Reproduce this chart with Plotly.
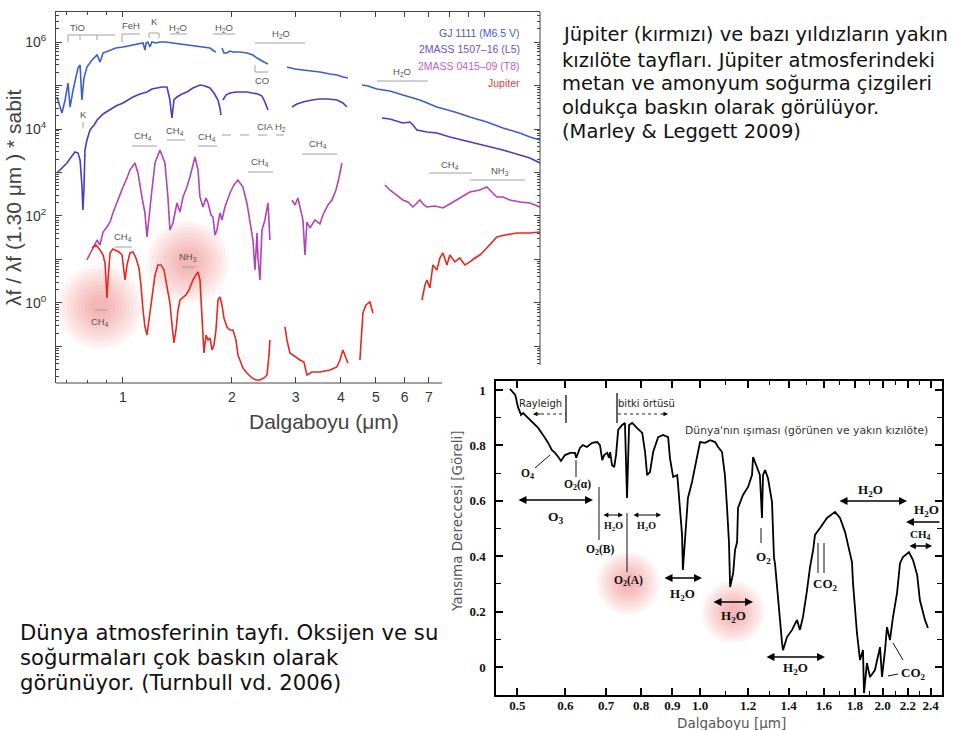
import math
import plotly.graph_objects as go

W, H = 960, 730

# ---------------- DATA : top chart (lambda f normalised at 1.30 um, log10 of value) ----------------
gj1111_wl = [0.657, 0.678, 0.692, 0.705, 0.714, 0.728, 0.751, 0.761, 0.770, 0.780,
             0.795, 0.821, 0.848, 0.864, 0.881, 0.921, 0.956, 1.000, 1.032, 1.066,
             1.100, 1.136, 1.150, 1.158, 1.172, 1.187, 1.202, 1.234, 1.265, 1.315,
             1.374, 1.437, 1.502, 1.561, 1.632, 1.685, 1.739, 1.784, 1.807, None,
             1.877, 1.901, 1.937, 1.975, 2.013, 2.104, 2.200, 2.286, 2.346, 2.390, 2.453, 2.516, None,
             2.838, 2.987, 3.143, 3.327, 3.501, 3.731, 3.901, 4.053, 4.183, None,
             4.573, 4.752, 5.030, 5.464, 5.934, 6.326, 6.612, 7.367, 8.264, 9.087, 10.13, 11.21, 12.49, 13.31, 14.2]
gj1111_log10f = [4.736, 4.368, 4.667, 5.057, 4.506, 4.897, 5.402, 5.471, 4.667, 5.172,
                 5.425, 5.586, 5.701, 5.540, 5.747, 5.816, 5.862, 5.885, 5.908, 5.931,
                 5.954, 5.977, 5.816, 5.977, 6.0, 5.885, 6.0, 5.977, 6.0, 6.0,
                 5.977, 5.954, 5.931, 5.908, 5.885, 5.862, 5.862, 5.793, 5.770, None,
                 5.862, 5.747, 5.747, 5.793, 5.770, 5.770, 5.747, 5.701, 5.632, 5.586, 5.540, 5.494, None,
                 5.425, 5.379, 5.356, 5.333, 5.310, 5.264, 5.241, 5.195, 5.172, None,
                 5.011, 4.989, 4.920, 4.874, 4.782, 4.713, 4.667, 4.506, 4.391, 4.276, 4.161, 4.023, 3.908, 3.816, 3.747]

l5_wl = [0.657, 0.678, 0.700, 0.719, 0.737, 0.751, 0.761, 0.770, 0.775, 0.780,
         0.785, 0.795, 0.811, 0.832, 0.848, 0.881, 0.921, 0.956, 1.000, 1.032,
         1.066, 1.114, 1.165, 1.202, 1.241, 1.282, 1.323, 1.340, 1.348, 1.357,
         1.366, 1.383, 1.410, 1.455, 1.502, 1.561, 1.632, 1.685, 1.739, 1.784,
         1.830, 1.853, 1.865, None,
         1.889, 1.925, 1.975, 2.052, 2.133, 2.200, 2.272, 2.360, 2.421, 2.467, 2.516, None,
         2.930, 3.025, 3.143, 3.327, 3.501, 3.685, 3.901, 4.053, 4.157, None,
         5.194, 5.464, 5.934, 6.205, 6.326, 6.490, 6.916, 7.367, 8.002, 9.087, 10.13, 11.21, 12.49, 13.31, 14.2]
l5_log10f = [2.989, 3.103, 3.218, 3.356, 3.471, 3.448, 3.287, 2.713, 2.138, 2.598,
             3.517, 3.747, 3.977, 4.092, 4.207, 4.345, 4.437, 4.529, 4.598, 4.667,
             4.736, 4.805, 4.851, 4.920, 4.943, 4.966, 4.966, 4.782, 4.667, 4.437,
             4.253, 4.667, 4.736, 4.805, 4.851, 4.943, 5.011, 4.989, 4.943, 4.828,
             4.667, 4.483, 4.322, None,
             4.667, 4.782, 4.828, 4.851, 4.851, 4.851, 4.828, 4.805, 4.759, 4.621, 4.437, None,
             4.506, 4.575, 4.621, 4.667, 4.690, 4.690, 4.667, 4.598, 4.506, None,
             4.253, 4.230, 4.138, 4.161, 4.092, 3.977, 3.931, 3.908, 3.816, 3.701, 3.609, 3.517, 3.402, 3.333, 3.218]

t8_wl = [0.795, 0.821, 0.848, 0.864, 0.881, 0.903, 0.921, 0.938, 0.956, 0.981,
         1.000, 1.026, 1.045, 1.079, 1.100, 1.128, 1.150, 1.165, 1.180, 1.202,
         1.226, 1.265, 1.306, 1.331, 1.348, 1.374, 1.410, 1.437, 1.465, 1.502,
         1.531, 1.581, 1.612, 1.632, 1.663, 1.696, 1.718, 1.751, 1.773, 1.795,
         1.818, 1.853, 1.877, 1.913, 1.975, 2.026, 2.078, 2.145, 2.200, 2.243,
         2.286, 2.316, 2.346, 2.360, 2.390, 2.421, 2.467, 2.516, 2.532, 2.547, None,
         2.930, 2.987, 3.044, 3.103, 3.143, 3.183, 3.224, 3.285, 3.392, 3.501,
         3.568, 3.685, 3.779, 3.877, 3.952, 4.027, None,
         5.294, 5.464, 5.642, 5.934, 6.127, 6.326, 6.490, 6.612, 6.785, 6.916,
         7.275, 7.656, 8.002, 8.370, 8.806, 9.087, 9.684, 10.13, 10.45, 10.79,
         11.21, 11.72, 12.49, 13.31, 14.2]
t8_log10f = [0.989, 1.218, 1.448, 1.333, 1.632, 1.747, 1.862, 2.069, 2.253, 2.483,
             2.667, 2.874, 3.057, 3.218, 2.989, 2.437, 2.069, 1.517, 2.023, 2.598,
             3.218, 3.517, 3.218, 2.437, 1.678, 1.839, 2.299, 2.092, 2.437, 2.667,
             2.897, 3.356, 3.057, 2.437, 2.207, 2.414, 2.299, 2.023, 1.977, 1.563,
             1.678, 2.069, 1.908, 2.207, 2.529, 2.713, 2.828, 2.667, 2.299, 1.839,
             1.448, 0.759, 1.609, 1.057, 0.529, 1.678, 1.908, 2.299, 1.678, 1.448, None,
             2.368, 2.253, 2.414, 2.092, 1.908, 1.103, 1.862, 1.724, 1.908, 1.816,
             2.023, 2.253, 2.368, 2.598, 2.874, 3.218, None,
             2.713, 2.598, 2.506, 2.368, 2.322, 2.207, 2.299, 2.368, 2.253, 2.207,
             2.230, 2.184, 2.276, 2.368, 2.483, 2.552, 2.598, 2.667, 2.552, 2.437,
             2.437, 2.368, 2.322, 2.299, 2.207]

jupiter_wl = [0.821, 0.842, 0.864, 0.881, 0.892, 0.898, 0.903, 0.909, 0.921, 0.938,
              0.950, 0.975, 0.994, 1.006, 1.013, 1.026, 1.045, 1.066, 1.086, 1.107,
              1.121, 1.136, 1.150, 1.165, 1.180, 1.202, 1.226, 1.249, 1.274, 1.298,
              1.323, 1.348, 1.366, 1.383, 1.401, 1.419, 1.437, 1.465, 1.493, 1.522,
              1.561, 1.591, 1.612, 1.632, 1.642, 1.663, 1.674, 1.696, 1.718, 1.739,
              1.762, 1.784, 1.807, 1.830, 1.853, 1.877, 1.901, 1.937, 1.975, 2.013,
              2.052, 2.078, 2.104, 2.145, 2.200, 2.272, 2.331, 2.390, 2.453, 2.500,
              2.532, 2.547, None,
              2.803, 2.838, 2.893, 2.968, 3.083, 3.162, 3.224, 3.327, 3.501, 3.731,
              3.901, 3.976, 4.053, 4.130, 4.183, None,
              4.515, 4.546, 4.603, 4.692, 4.811, 4.906, None,
              6.698, 6.830, 6.916, 7.046, 7.185, 7.367, 7.509, 7.656, 7.852, 8.002,
              8.264, 8.527, 8.806, 9.087, 9.384, 9.684, 10.0, 10.32, 10.79, 11.36,
              12.26, 13.31, 14.2]
jupiter_log10f = [1.264, 1.333, 1.218, 1.103, 0.920, 0.414, 0.115, 0.529, 1.149, 1.241,
                  1.218, 1.172, 1.103, 0.805, 0.529, 0.874, 1.149, 1.172, 1.034, 0.805,
                  0.414, -0.161, -0.552, -0.736, -0.391, 0.184, 0.644, 0.874, 0.874, 0.759,
                  0.414, 0.0, -0.506, -0.920, -0.621, -0.161, 0.069, 0.138, 0.184, 0.299,
                  0.529, 0.644, 0.713, 0.529, 0.069, -0.851, -1.149, -0.736, -0.851, -0.805,
                  -1.080, -0.966, -0.621, 0.069, 0.138, -0.046, -0.345, -0.552, -0.621, -0.621,
                  -0.851, -1.195, -1.310, -1.494, -1.609, -1.724, -1.770, -1.770, -1.724, -1.655,
                  -1.195, -0.851, None,
                  -0.552, -0.851, -1.149, -1.218, -1.310, -1.356, -1.655, -1.586, -1.586, -1.540,
                  -1.471, -1.310, -1.080, -1.264, -1.379, None,
                  -1.310, -0.851, -0.230, -0.046, 0.023, -0.230, None,
                  0.069, 0.414, 0.529, 0.345, 0.874, 0.759, 1.034, 1.149, 0.874, 1.103,
                  0.943, 1.034, 0.874, 0.943, 1.034, 1.103, 1.218, 1.333, 1.517, 1.563,
                  1.609, 1.609, 1.632]

series_names = ["GJ 1111 (M6.5 V)", "2MASS 1507\u201316 (L5)", "2MASS 0415\u201309 (T8)", "Jupiter"]
series_colors = ["#3a60c8", "#4a3cc4", "#b044b4", "#e8281e"]
legend_colors = ["#3b62c4", "#6a50c8", "#c45cbc", "#e23a36"]

top_x_ticks = [1, 2, 3, 4, 5, 6, 7]
top_y_ticks = [0.1, 1, 10, 100, 1e3, 1e4, 1e5, 1e6]
top_y_ticktext = ["", "10<sup>0</sup>", "", "10<sup>2</sup>", "", "10<sup>4</sup>", "", "10<sup>6</sup>"]

# highlighted regions (wavelength um, value)
glow_top_wl = [0.864, 1.512]
glow_top_val = [0.81, 8.76]

# ---------------- DATA : bottom chart (Earthshine reflectance) ----------------
earth_wl = [0.486, 0.496, 0.501, 0.507, 0.511, 0.521, 0.531, 0.541, 0.551, 0.562,
            0.570, 0.577, 0.584, 0.590, 0.599, 0.611, 0.622, 0.625, 0.634, 0.641,
            0.651, 0.664, 0.677, 0.684, 0.690, 0.695, 0.703, 0.708, 0.711, 0.716,
            0.722, 0.727, 0.733, 0.744, 0.752, 0.758, 0.764, 0.773, 0.787, 0.803,
            0.812, 0.818, 0.827, 0.837, 0.853, 0.869, 0.886, 0.892, 0.903, 0.917,
            0.920, 0.927, 0.934, 0.937, 0.955, 0.970, 0.989, 1.000, 1.019, 1.039,
            1.059, 1.071, 1.087, 1.099, 1.108, 1.116, 1.121, 1.134, 1.142, 1.151,
            1.155, 1.164, 1.177, 1.200, 1.218, 1.223, 1.241, 1.255, 1.265, 1.270,
            1.280, 1.294, 1.314, 1.324, 1.329, 1.344, 1.365, 1.370, 1.391, 1.418,
            1.445, 1.461, 1.478, 1.501, 1.518, 1.536, 1.547, 1.577, 1.619, 1.669,
            1.701, 1.734, 1.754, 1.780, 1.787, 1.814, 1.835, 1.856, 1.863, 1.884,
            1.906, 1.942, 1.980, 1.995, 2.018, 2.033, 2.056, 2.080, 2.112, 2.136,
            2.160, 2.202, 2.210, 2.244, 2.280, 2.303, 2.348, 2.375]
earth_refl = [1.004, 0.982, 0.939, 0.910, 0.917, 0.899, 0.881, 0.863, 0.838, 0.809,
              0.783, 0.773, 0.758, 0.744, 0.765, 0.773, 0.773, 0.755, 0.791, 0.801,
              0.794, 0.809, 0.812, 0.801, 0.747, 0.765, 0.773, 0.755, 0.776, 0.729,
              0.722, 0.765, 0.856, 0.874, 0.881, 0.610, 0.874, 0.881, 0.863, 0.845,
              0.773, 0.693, 0.704, 0.776, 0.830, 0.838, 0.830, 0.755, 0.686, 0.693,
              0.657, 0.574, 0.477, 0.350, 0.610, 0.668, 0.755, 0.812, 0.809, 0.819,
              0.812, 0.794, 0.776, 0.693, 0.574, 0.451, 0.289, 0.339, 0.422, 0.451,
              0.574, 0.596, 0.621, 0.650, 0.693, 0.758, 0.718, 0.693, 0.538, 0.693,
              0.711, 0.682, 0.596, 0.394, 0.375, 0.242, 0.087, 0.061, 0.108, 0.134,
              0.170, 0.134, 0.181, 0.278, 0.361, 0.422, 0.477, 0.502, 0.538, 0.560,
              0.538, 0.487, 0.440, 0.379, 0.303, 0.123, 0.025, 0.061, -0.094, 0.014,
              -0.036, -0.011, 0.072, -0.036, 0.061, 0.144, 0.097, 0.181, 0.267, 0.375,
              0.397, 0.412, 0.415, 0.386, 0.332, 0.242, 0.170, 0.141]

bot_x_ticks = [0.5, 0.6, 0.7, 0.8, 0.9, 1.0, 1.2, 1.4, 1.6, 1.8, 2.0, 2.2, 2.4]
bot_x_ticktext = ["0.5", "0.6", "0.7", "0.8", "0.9", "1.0", "1.2", "1.4", "1.6", "1.8", "2.0", "2.2", "2.4"]
bot_x_minor = [1.1, 1.3, 1.5, 1.7, 1.9, 2.1, 2.3]
bot_y_ticks = [0, 0.2, 0.4, 0.6, 0.8, 1.0]
bot_y_ticktext = ["0", "0.2", "0.4", "0.6", "0.8", "1"]
bot_y_minor = [0.1, 0.3, 0.5, 0.7, 0.9]

glow_bot_wl = [0.761, 1.134]
glow_bot_val = [0.303, 0.198]


def pow10(vals):
    return [None if v is None else 10 ** v for v in vals]


def X(p):
    return p / W


def Y(p):
    return 1 - p / H


fig = go.Figure()

# soft glows: many stacked translucent discs, largest first
for i in range(11):
    scale = 1.0 - 0.08 * i
    g = dict(color="rgba(240,85,75,0.065)", line=dict(width=0))
    fig.add_trace(go.Scatter(x=glow_top_wl, y=glow_top_val, mode="markers", xaxis="x", yaxis="y",
                             marker=dict(size=[86 * scale, 84 * scale], **g),
                             hoverinfo="skip", showlegend=False))
    fig.add_trace(go.Scatter(x=glow_bot_wl, y=glow_bot_val, mode="markers", xaxis="x3", yaxis="y3",
                             marker=dict(size=[64 * scale, 64 * scale], **g),
                             hoverinfo="skip", showlegend=False))

tops = [(gj1111_wl, gj1111_log10f), (l5_wl, l5_log10f), (t8_wl, t8_log10f), (jupiter_wl, jupiter_log10f)]
for (wl, lf), name, col in zip(tops, series_names, series_colors):
    fig.add_trace(go.Scatter(x=wl, y=pow10(lf), mode="lines", name=name, xaxis="x", yaxis="y",
                             line=dict(color=col, width=1.6), connectgaps=False, showlegend=False))

# dummy traces so overlay axes are drawn
fig.add_trace(go.Scatter(x=[1], y=[1], xaxis="x2", yaxis="y", mode="markers",
                         marker=dict(opacity=0), hoverinfo="skip", showlegend=False))
fig.add_trace(go.Scatter(x=[1], y=[1], xaxis="x", yaxis="y2", mode="markers",
                         marker=dict(opacity=0), hoverinfo="skip", showlegend=False))

fig.add_trace(go.Scatter(x=earth_wl, y=earth_refl, mode="lines", name="Dünya", xaxis="x3", yaxis="y3",
                         line=dict(color="black", width=1.8), showlegend=False))

AX = "#444"
top_xrange = [math.log10(0.653), math.log10(14.2)]
top_yrange = [-1.84, 6.69]
top_xdom = [56 / W, 540 / W]
top_ydom = [1 - 383 / H, 1 - 12 / H]
minor_log = [m * 10 ** k for k in range(-2, 7) for m in range(2, 10)]
tick_font_top = dict(family="Liberation Sans", size=14, color="#333")

fig.update_layout(
    width=W, height=H, margin=dict(l=0, r=0, t=0, b=0),
    paper_bgcolor="white", plot_bgcolor="rgba(0,0,0,0)", showlegend=False,
    xaxis=dict(type="log", range=top_xrange, domain=top_xdom, anchor="y", showline=False,
               showgrid=False, zeroline=False, ticks="inside", ticklen=6, tickcolor=AX,
               tickmode="array", tickvals=top_x_ticks, ticktext=[str(v) for v in top_x_ticks],
               tickfont=tick_font_top, ticklabelstandoff=4,
               minor=dict(tickmode="array", tickvals=[0.7, 0.8, 0.9], ticks="inside", ticklen=3, tickcolor=AX)),
    xaxis2=dict(type="log", range=top_xrange, domain=top_xdom, anchor="y", overlaying="x", side="top",
                showline=True, linecolor=AX, linewidth=1, showgrid=False, zeroline=False,
                ticks="inside", ticklen=5, tickcolor=AX, tickmode="array",
                tickvals=[1, 2, 3, 4, 5, 6, 7, 8, 9, 10], showticklabels=False,
                minor=dict(tickmode="array", tickvals=[0.7, 0.8, 0.9], ticks="inside", ticklen=3, tickcolor=AX)),
    yaxis=dict(type="log", range=top_yrange, domain=top_ydom, anchor="x", showline=True, linecolor=AX,
               linewidth=1, showgrid=False, zeroline=False, ticks="inside", ticklen=6, tickcolor=AX,
               tickmode="array", tickvals=top_y_ticks, ticktext=top_y_ticktext, tickfont=tick_font_top,
               ticklabelstandoff=6,
               minor=dict(tickmode="array", tickvals=minor_log, ticks="inside", ticklen=3, tickcolor=AX)),
    yaxis2=dict(type="log", range=top_yrange, domain=top_ydom, anchor="x", overlaying="y", side="right",
                showline=False, showgrid=False, zeroline=False, ticks="inside", ticklen=6, tickcolor=AX,
                tickmode="array", tickvals=[v for v in top_y_ticks if v >= 0.1], showticklabels=False,
                minor=dict(tickmode="array", tickvals=[v for v in minor_log if v >= 0.04],
                           ticks="inside", ticklen=3, tickcolor=AX)),
    xaxis3=dict(type="log", range=[math.log10(0.461), math.log10(2.505)], domain=[496 / W, 942 / W],
                anchor="y3", showline=True, linecolor="black", linewidth=1.5, mirror="allticks",
                showgrid=False, zeroline=False, ticks="inside", ticklen=7, tickwidth=1.5, tickcolor="black",
                tickmode="array", tickvals=bot_x_ticks, ticktext=bot_x_ticktext,
                tickfont=dict(family="Liberation Serif", size=13, color="#111", weight="bold"),
                ticklabelstandoff=-2,
                minor=dict(tickmode="array", tickvals=bot_x_minor, ticks="inside", ticklen=4,
                           tickwidth=1.2, tickcolor="black")),
    yaxis3=dict(range=[-0.101, 1.0325], domain=[1 - 695 / H, 1 - 381 / H], anchor="x3",
                showline=True, linecolor="black", linewidth=1.5, mirror="allticks",
                showgrid=False, zeroline=False, ticks="inside", ticklen=7, tickwidth=1.5, tickcolor="black",
                tickmode="array", tickvals=bot_y_ticks, ticktext=bot_y_ticktext,
                tickfont=dict(family="Liberation Serif", size=13, color="#111", weight="bold"),
                ticklabelstandoff=6,
                minor=dict(tickmode="array", tickvals=bot_y_minor, ticks="inside", ticklen=5,
                           tickwidth=1.2, tickcolor="black")),
)

ann = []
shapes = []


def text(t, x, y, size, family="DejaVu Sans", color="#111", bold=False, xanchor="center", angle=0):
    ann.append(dict(text=t, x=X(x), y=Y(y), xref="paper", yref="paper", showarrow=False,
                    xanchor=xanchor, yanchor="middle", textangle=angle,
                    font=dict(family=family, size=size, color=color, weight="bold" if bold else "normal")))


def seg(x0, y0, x1, y1, color="#999", width=1, dash="solid"):
    shapes.append(dict(type="line", xref="paper", yref="paper", x0=X(x0), y0=Y(y0), x1=X(x1), y1=Y(y1),
                       line=dict(color=color, width=width, dash=dash)))


def arrow(x_head, y, x_tail, both=True, width=1.6, head=2, size=1.0):
    ann.append(dict(text="", x=X(x_head), y=Y(y), xref="paper", yref="paper", showarrow=True,
                    ax=x_tail - x_head, ay=0, axref="pixel", ayref="pixel",
                    arrowside="end+start" if both else "end", arrowhead=head, startarrowhead=head,
                    arrowsize=size, startarrowsize=size, arrowwidth=width, arrowcolor="black",
                    standoff=0, startstandoff=0))


# ---- top chart frame pieces (partly hidden by the inset) ----
seg(56, 383, 442, 383, color=AX, width=1)
seg(540, 12, 540, 365, color=AX, width=1)

# ---- top chart titles ----
text("Dalgaboyu (\u03bcm)", 324, 421, 21, family="Liberation Sans", color="#444")
text("\u03bbf / \u03bbf (1.30 \u03bcm ) * sabit", 13, 198, 21, family="Liberation Sans", color="#444", angle=-90)

# ---- legend texts ----
for i, (nm, col) in enumerate(zip(series_names, legend_colors)):
    text(nm, 522, [33, 49, 66, 83][i], 10.5, family="Liberation Sans", color=col, xanchor="right")

# ---- band labels on top chart ----
LBL = dict(size=9.5, family="Liberation Sans", color="#555")
for t, x, y in [("TiO", 77, 27), ("FeH", 131, 26), ("K", 154, 22), ("H<sub>2</sub>O", 178, 28),
                ("H<sub>2</sub>O", 224, 28), ("H<sub>2</sub>O", 281, 34), ("CO", 262, 80), ("K", 83, 114),
                ("CH<sub>4</sub>", 143, 136), ("CH<sub>4</sub>", 175, 131), ("CH<sub>4</sub>", 207, 137),
                ("CIA H<sub>2</sub>", 271, 127), ("CH<sub>4</sub>", 260, 162), ("CH<sub>4</sub>", 318, 144),
                ("H<sub>2</sub>O", 402, 72), ("CH<sub>4</sub>", 450, 165), ("NH<sub>3</sub>", 500, 171),
                ("CH<sub>4</sub>", 123, 237), ("NH<sub>3</sub>", 188, 257), ("CH<sub>4</sub>", 100, 322)]:
    text(t, x, y, **LBL)

BAR = "#a0a0a0"
for x0, x1, y in [(68, 115, 35), (122, 140, 34), (149, 159, 33), (170, 187, 34), (213, 235, 34),
                  (255, 305, 43), (255, 268, 72), (132, 157, 146), (167, 185, 140), (198, 217, 146),
                  (248, 273, 172), (302, 337, 154), (377, 428, 81), (429, 472, 173), (470, 525, 180),
                  (115, 132, 247), (182, 195, 267), (95, 107, 310)]:
    seg(x0, y, x1, y, color=BAR)
for x, y0, y1 in [(68, 35, 42), (80, 35, 40), (97, 35, 40), (122, 34, 42), (149, 33, 38), (159, 33, 38),
                  (255, 72, 65), (83, 122, 128)]:
    seg(x, y0, x, y1, color=BAR)
seg(222, 135, 284, 135, color=BAR, dash="dash")

# ---- paragraph texts ----
for t, y in [("Jüpiter (kırmızı) ve bazı yıldızların yakın", 35),
             ("kızılöte tayfları. Jüpiter atmosferindeki", 60),
             ("metan ve amonyum soğurma çizgileri", 84),
             ("oldukça baskın olarak görülüyor.", 107),
             ("(Marley &amp; Leggett 2009)", 131)]:
    text(t, 560, y, 19.5, color="#111", xanchor="left")
for t, y in [("Dünya atmosferinin tayfı. Oksijen ve su", 632),
             ("soğurmaları çok baskın olarak", 657),
             ("görünüyor. (Turnbull vd. 2006)", 682)]:
    text(t, 18, y, 21.2, color="#111", xanchor="left")

# ---- bottom chart titles ----
text("Dalgaboyu [\u03bcm]", 731, 723, 13.5, color="#555")
text("Yansıma Dereccesi [Göreli]", 457, 521, 13.5, color="#555", angle=-90)
text("Dünya'nın ışıması (görünen ve yakın kızılöte)", 806, 430, 10.8, color="#333")
text("Rayleigh", 540, 404, 10, color="#222")
text("bitki örtüsü", 646, 404, 10, color="#222")

# ---- bottom chart molecule labels ----
SER = dict(family="Liberation Serif", bold=True, color="#111")
for t, x, y, s in [("O<sub>4</sub>", 527, 474, 11.5), ("O<sub>2</sub>(\u03b1)", 577, 485, 11.5),
                   ("O<sub>3</sub>", 556, 517, 13.5), ("O<sub>2</sub>(B)", 600, 550, 11.5),
                   ("H<sub>2</sub>O", 613, 526, 10), ("H<sub>2</sub>O", 646, 526, 10),
                   ("O<sub>2</sub>(A)", 628, 581, 11.5), ("H<sub>2</sub>O", 682, 594, 13),
                   ("H<sub>2</sub>O", 733, 616, 13), ("O<sub>2</sub>", 763, 557, 13),
                   ("CO<sub>2</sub>", 825, 584, 13), ("H<sub>2</sub>O", 870, 490, 13),
                   ("H<sub>2</sub>O", 926, 510, 13), ("CH<sub>4</sub>", 920, 535, 11),
                   ("H<sub>2</sub>O", 795, 668, 13), ("CO<sub>2</sub>", 913, 673, 13)]:
    text(t, x, y, s, **SER)

# arrows
arrow(593, 500, 517)
arrow(623, 515, 602, width=1.2, size=0.8)
arrow(661, 515, 632, width=1.2, size=0.8)
arrow(702, 578, 663)
arrow(753, 602, 712)
arrow(907, 501, 838)
arrow(906, 522, 941, both=False)
arrow(932, 546, 908, width=1.4, size=0.9)
arrow(825, 657, 765)
# dotted arrows
seg(541, 414, 566, 414, color="#222", width=1.2, dash="dot")
arrow(533, 414, 542, both=False, width=1.0, size=0.9)
seg(618, 414, 660, 414, color="#222", width=1.2, dash="dot")
arrow(668, 414, 659, both=False, width=1.0, size=0.9)

# pointer lines
K = "#111"
seg(566, 395, 566, 423, K, 1.3)
seg(617, 393, 617, 423, K, 1.3)
seg(535, 468, 550, 455, K, 1.0)
seg(576, 460, 576, 477, K, 1.0)
seg(599, 487, 599, 540, K, 1.0)
seg(627, 513, 627, 572, K, 1.0)
seg(761, 528, 761, 543, K, 1.0)
seg(818, 543, 818, 573, K, 1.0)
seg(824, 543, 824, 573, K, 1.0)
seg(893, 643, 903, 660, K, 1.0)
seg(888, 676, 898, 674, K, 1.0)

fig.update_layout(annotations=ann, shapes=shapes)
fig.write_html("out.html", config={"displayModeBar": False},
               post_script="document.body.style.margin='0px';")
